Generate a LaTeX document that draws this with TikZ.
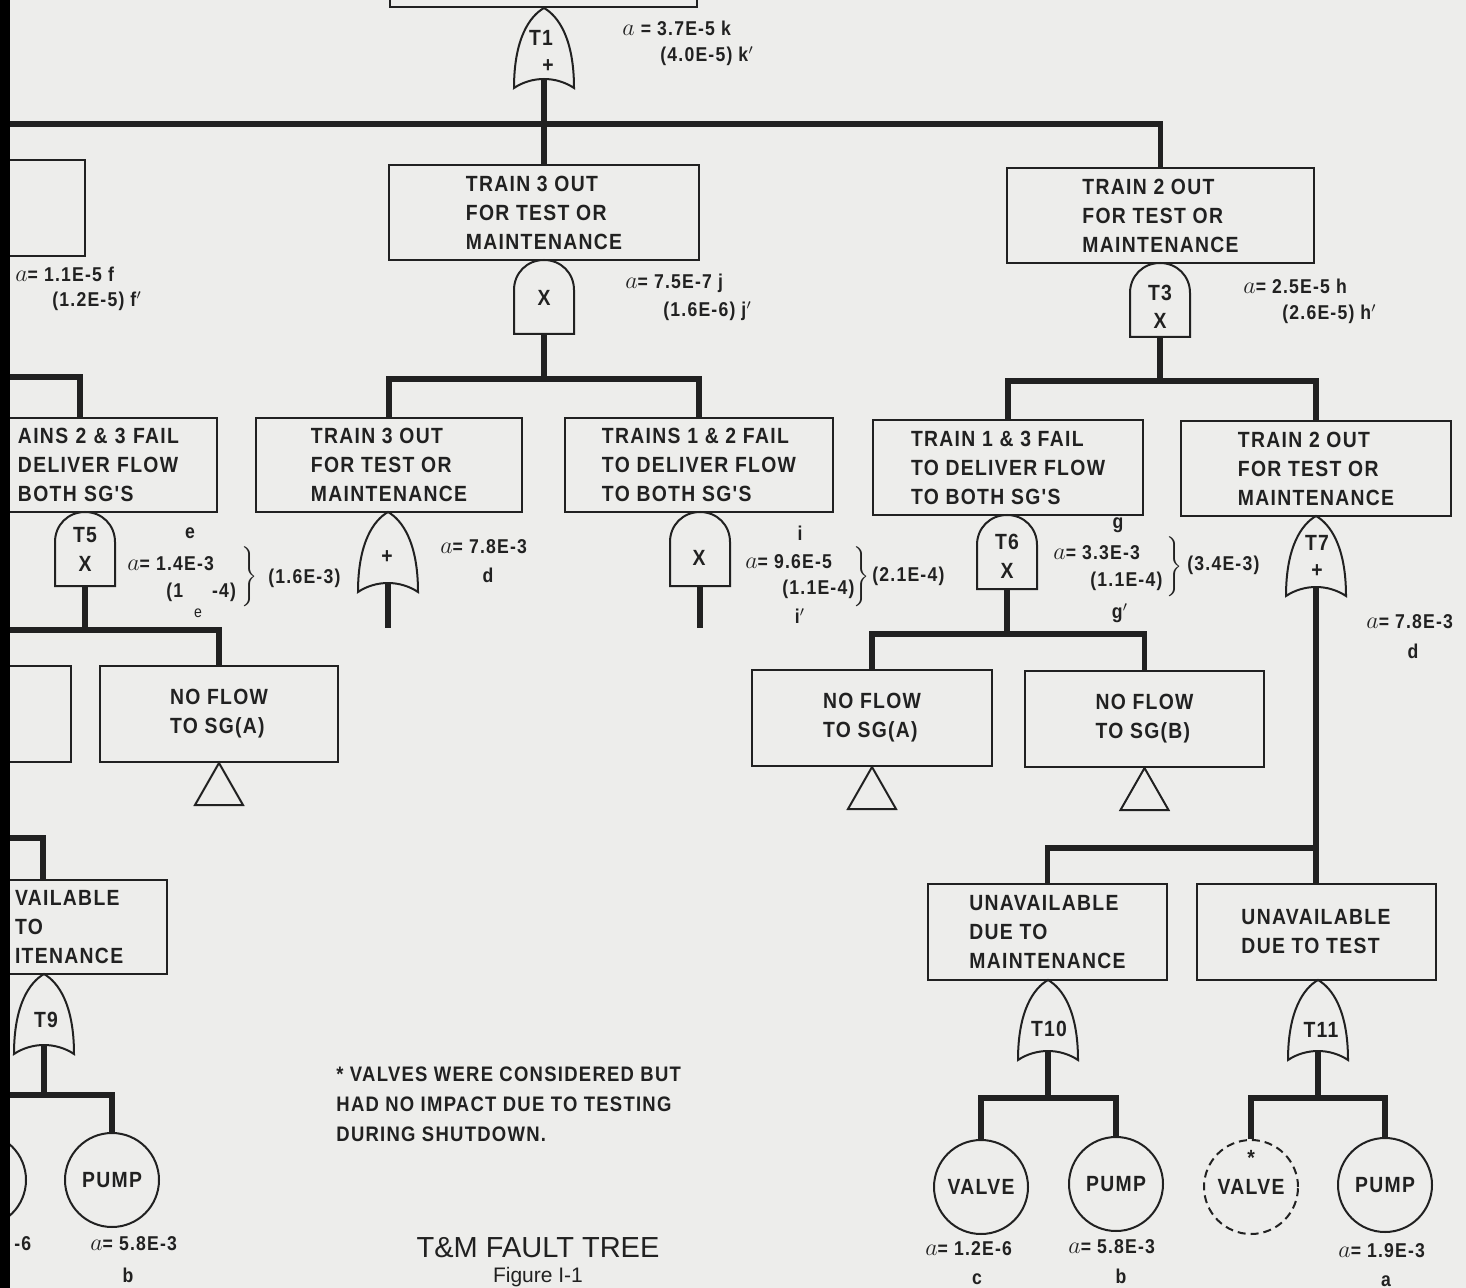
\documentclass[tikz,border=0pt]{standalone}
\usepackage{fontspec}
\setmainfont{Liberation Sans}
\newfontfamily\lett{Liberation Sans}[FakeStretch=0.88, LetterSpace=6]
\definecolor{paper}{rgb}{0.93,0.93,0.92}
\definecolor{ink}{rgb}{0.13,0.13,0.13}
\newcommand\avar{{\fontsize{13}{13}\selectfont$a$}}
\tikzset{
  boxtxt/.style={font=\lett\bfseries\fontsize{11}{14.5}\selectfont},
  evbox/.style={draw=ink, line width=1pt, align=left, inner sep=0pt, boxtxt, text=ink},
  conn/.style={draw=ink, line width=2.8pt},
  gateline/.style={draw=ink, line width=1pt},
  gtxt/.style={font=\lett\bfseries\fontsize{11}{13}\selectfont, inner sep=0, text=ink},
  lbl/.style={font=\lett\bfseries\fontsize{10}{12}\selectfont, anchor=west, inner sep=0, text=ink},
  clbl/.style={lbl, anchor=center},
  basic/.style={circle, draw=ink, line width=1pt, minimum size=47pt, inner sep=0, boxtxt, text=ink},
  orgate/.pic={
    \draw[gateline] (0,0) .. controls (-14,8) and (-30,30) .. (-30,80)
      .. controls (-12,68) and (12,68) .. (30,80)
      .. controls (30,30) and (14,8) .. (0,0) -- cycle;
    \coordinate (-out) at (0,71);
  },
  andgate/.pic={
    \draw[gateline] (-30,74) -- (-30,30) .. controls (-30,13) and (-17,0) .. (0,0)
      .. controls (17,0) and (30,13) .. (30,30) -- (30,74) -- cycle;
    \coordinate (-out) at (0,74);
  },
}
\begin{document}
\begin{tikzpicture}[x=0.5pt, y=-0.5pt]
\useasboundingbox (0,0) rectangle (1466,1288);
\clip (0,0) rectangle (1466,1288);
\fill[paper] (0,0) rectangle (1466,1288);

% ---------- event boxes ----------
\node[evbox, minimum width=153.5pt, minimum height=50pt, anchor=south] (B0) at (543.5,8) {};
\node[evbox, minimum width=39.5pt, minimum height=48pt, anchor=west] (L1) at (5,208) {};
\node[evbox, minimum width=155pt, minimum height=47.5pt] (B3a) at (544,212.5)
  {TRAIN 3 OUT\\FOR TEST OR\\MAINTENANCE};
\node[evbox, minimum width=153.5pt, minimum height=47.5pt] (B2a) at (1160.5,215.5)
  {TRAIN 2 OUT\\FOR TEST OR\\MAINTENANCE};

\node[evbox, anchor=west, text width=93.5pt, inner xsep=6pt, minimum height=47pt] (AINS) at (5,465)
  {AINS 2 \& 3 FAIL\\DELIVER FLOW\\BOTH SG'S};
\node[evbox, minimum width=133pt, minimum height=47pt] (B3b) at (389,465)
  {TRAIN 3 OUT\\FOR TEST OR\\MAINTENANCE};
\node[evbox, minimum width=134pt, minimum height=47pt] (B12) at (699,465)
  {TRAINS 1 \& 2 FAIL\\TO DELIVER FLOW\\TO BOTH SG'S};
\node[evbox, minimum width=135pt, minimum height=47.5pt] (B13) at (1008,467.5)
  {TRAIN 1 \& 3 FAIL\\TO DELIVER FLOW\\TO BOTH SG'S};
\node[evbox, minimum width=135pt, minimum height=47.5pt] (B2b) at (1316,468.5)
  {TRAIN 2 OUT\\FOR TEST OR\\MAINTENANCE};

\node[evbox, minimum width=32.5pt, minimum height=48pt, anchor=west] (L3) at (5,714) {};
\node[evbox, minimum width=119pt, minimum height=48pt] (NFA1) at (219,714) {NO FLOW\\TO SG(A)};
\node[evbox, minimum width=120pt, minimum height=48pt] (NFA2) at (872,718) {NO FLOW\\TO SG(A)};
\node[evbox, minimum width=119.5pt, minimum height=48pt] (NFB) at (1144.5,719) {NO FLOW\\TO SG(B)};

\node[evbox, anchor=west, text width=71.5pt, inner xsep=4.5pt, minimum height=47pt] (VAIL) at (5,927)
  {VAILABLE\\TO\\ITENANCE};
\node[evbox, minimum width=119.5pt, minimum height=48pt] (UM) at (1047.5,932)
  {UNAVAILABLE\\DUE TO\\MAINTENANCE};
\node[evbox, minimum width=119.5pt, minimum height=48pt] (UT) at (1316,932)
  {UNAVAILABLE\\DUE TO TEST};

% ---------- transfer triangles ----------
\draw[gateline] (NFA1.south) -- ++(-24,42) -- ++(48,0) -- cycle;
\draw[gateline] (NFA2.south) -- ++(-24,42) -- ++(48,0) -- cycle;
\draw[gateline] (NFB.south) -- ++(-24,42) -- ++(48,0) -- cycle;

% ---------- gates ----------
\pic (T1) at (544,8) {orgate};
\pic (G3a) at (544,260) {andgate};
\pic (T3) at (1160,263) {andgate};
\pic (T5) at (85,512) {andgate};
\pic (ORd) at (388,512) {orgate};
\pic (G12) at (700,512) {andgate};
\pic (T6) at (1007,515) {andgate};
\pic (T7) at (1316,516) {orgate};
\pic (T9) at (44,974) {orgate};
\pic (T10) at (1048,980) {orgate};
\pic (T11) at (1318,980) {orgate};

\node[gtxt] (T1a) at (541,38) {T1};   \node[gtxt] (T1b) at (548,66) {+};
\node[gtxt] (G3ax) at (544,298) {X};
\node[gtxt] (T3a) at (1160,293) {T3}; \node[gtxt] (T3b) at (1160,321) {X};
\node[gtxt] (T5a) at (85,535) {T5};   \node[gtxt] (T5b) at (85,564) {X};
\node[gtxt] (ORdp) at (387,557) {+};
\node[gtxt] (G12x) at (699,558) {X};
\node[gtxt] (T6a) at (1007,542) {T6}; \node[gtxt] (T6b) at (1007,571) {X};
\node[gtxt] (T7a) at (1317,543) {T7}; \node[gtxt] (T7b) at (1317,571) {+};
\node[gtxt] (T9a) at (46,1020) {T9};
\node[gtxt] (T10a) at (1049,1029) {T10};
\node[gtxt] (T11a) at (1321,1030) {T11};

% ---------- basic events ----------
\node[basic] (V0) at (-21,1180) {};
\node[basic] (P0) at (112,1180) {PUMP};
\node[basic] (V1) at (981,1187) {VALVE};
\node[basic] (P1) at (1116,1184) {PUMP};
\node[basic, dash pattern=on 4pt off 2.5pt] (V2) at (1251,1187) {VALVE};
\node[gtxt] (star) at (1251,1158) {*};
\node[basic] (P2) at (1385,1185) {PUMP};

% ---------- connectors ----------
\coordinate (e1) at (10,124);
\draw[conn] (e1) -| (B2a.north);
\draw[conn] (T1-out) -- (B3a.north);

\coordinate (j1) at (544,379);
\draw[conn] (G3a-out) -- (j1);
\draw[conn] (B3b.north) |- (j1) -| (B12.north);

\coordinate (e2) at (10,377);
\coordinate (x80) at (80,0);
\draw[conn] (e2) -| (x80 |- AINS.north);

\coordinate (e3) at (10,630);
\draw[conn] (T5-out) -- (T5-out |- e3);
\draw[conn] (e3) -| (NFA1.north);

\coordinate (d1) at (388,628);
\coordinate (d2) at (700,628);
\draw[conn] (ORd-out) -- (d1);
\draw[conn] (G12-out) -- (d2);

\coordinate (j3) at (1160,381);
\draw[conn] (T3-out) -- (j3);
\draw[conn] (B13.north) |- (j3) -| (B2b.north);

\coordinate (j6) at (1007,634);
\draw[conn] (T6-out) -- (j6);
\draw[conn] (NFA2.north) |- (j6) -| (NFB.north);

\coordinate (j7) at (1316,848);
\draw[conn] (T7-out) -- (UT.north);
\draw[conn] (UM.north) |- (j7);

\coordinate (e4) at (10,838);
\coordinate (x43) at (43,0);
\draw[conn] (e4) -| (x43 |- VAIL.north);

\coordinate (e5) at (10,1095);
\draw[conn] (T9-out) -- (T9-out |- e5);
\draw[conn] (e5) -| (P0.north);

\coordinate (j10) at (1048,1098);
\draw[conn] (T10-out) -- (j10);
\draw[conn] (V1.north) |- (j10) -| (P1.north);

\coordinate (j11) at (1318,1098);
\draw[conn] (T11-out) -- (j11);
\draw[conn] (V2.north) |- (j11) -| (P2.north);

% ---------- probability labels ----------
\node[lbl] (k1) at (622,28) {\avar\ = 3.7E-5 k};
\node[lbl] (k2) at (660,56) {(4.0E-5) k$'$};
\node[lbl] (f1) at (15,274) {\avar= 1.1E-5 f};
\node[lbl] (f2) at (52,301) {(1.2E-5) f$'$};
\node[lbl] (j1a) at (625,283) {\avar= 7.5E-7 j};
\node[lbl] (j1b) at (663,311) {(1.6E-6) j$'$};
\node[lbl] (h1) at (1243,286) {\avar= 2.5E-5 h};
\node[lbl] (h2) at (1282,314) {(2.6E-5) h$'$};

\node[clbl] (e1a) at (190,533) {e};
\node[lbl] (e1b) at (127,564) {\avar= 1.4E-3};
\node[lbl] (e1c) at (166,592) {(1\phantom{.5E}-4)};
\node[clbl] (e1d) at (250,577) {$\Bigg\}$};
\node[lbl] (e1e) at (268,578) {(1.6E-3)};
\node[clbl, font=\lett\fontsize{8}{8}\selectfont] (e1f) at (198,613) {e};

\node[lbl] (d1a) at (440,547) {\avar= 7.8E-3};
\node[clbl] (d1b) at (488,575) {d};

\node[clbl] (i1) at (800,533) {i};
\node[lbl] (i2) at (745,562) {\avar= 9.6E-5};
\node[lbl] (i3) at (782,589) {(1.1E-4)};
\node[clbl] (i4) at (862,577) {$\Bigg\}$};
\node[lbl] (i5) at (872,576) {(2.1E-4)};
\node[clbl] (i6) at (800,616) {i$'$};

\node[clbl] (g1) at (1118,525) {g};
\node[lbl] (g2) at (1053,553) {\avar= 3.3E-3};
\node[lbl] (g3) at (1090,581) {(1.1E-4)};
\node[clbl] (g4) at (1175,567) {$\Bigg\}$};
\node[lbl] (g5) at (1187,565) {(3.4E-3)};
\node[clbl] (g6) at (1120,613) {g$'$};

\node[lbl] (d2a) at (1366,622) {\avar= 7.8E-3};
\node[clbl] (d2b) at (1413,651) {d};

\node[lbl] (c0) at (14,1244) {-6};
\node[lbl] (b0a) at (90,1244) {\avar= 5.8E-3};
\node[clbl] (b0b) at (128,1275) {b};
\node[lbl] (c1a) at (925,1249) {\avar= 1.2E-6};
\node[clbl] (c1b) at (977,1279) {c};
\node[lbl] (b1a) at (1068,1247) {\avar= 5.8E-3};
\node[clbl] (b1b) at (1121,1276) {b};
\node[lbl] (a1a) at (1338,1251) {\avar= 1.9E-3};
\node[clbl] (a1b) at (1386,1281) {a};

% ---------- note and caption ----------
\node[lbl, font=\lett\bfseries\fontsize{10.5}{15}\selectfont, align=left, anchor=north west] (note) at (336,1066)
  {* VALVES WERE CONSIDERED BUT\\HAD NO IMPACT DUE TO TESTING\\DURING SHUTDOWN.};
\node[font=\fontsize{14.5}{16}\selectfont, text=ink, inner sep=0] (title) at (538,1248) {T\&M FAULT TREE};
\node[font=\fontsize{10.5}{12}\selectfont, text=ink, inner sep=0, anchor=north] (fig) at (538,1267) {Figure I-1};

% scan edge
\fill[black] (0,0) rectangle (10,1288);
\end{tikzpicture}
\end{document}
